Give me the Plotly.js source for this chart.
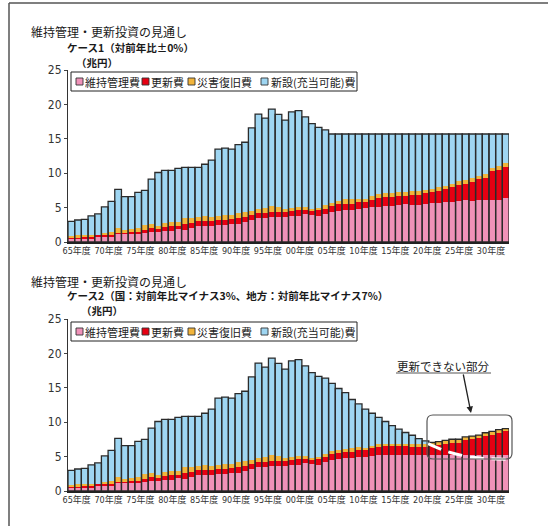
<!DOCTYPE html>
<html><head><meta charset="utf-8">
<script src="https://cdn.plot.ly/plotly-3.0.1.min.js"></script>
<style>html,body{margin:0;padding:0;background:#fff;}#chart{width:548px;height:526px;}</style>
</head><body><div id="chart"></div>
<script>
// ---------- DATA ----------
const years = [1965,1966,1967,1968,1969,1970,1971,1972,1973,1974,1975,1976,1977,1978,1979,1980,1981,1982,1983,1984,1985,1986,1987,1988,1989,1990,1991,1992,1993,1994,1995,1996,1997,1998,1999,2000,2001,2002,2003,2004,2005,2006,2007,2008,2009,2010,2011,2012,2013,2014,2015,2016,2017,2018,2019,2020,2021,2022,2023,2024,2025,2026,2027,2028,2029,2030];
const seriesNames = ['維持管理費','更新費','災害復旧費','新設(充当可能)費'];
const xTickLabels = ['65年度','70年度','75年度','80年度','85年度','90年度','95年度','00年度','05年度','10年度','15年度','20年度','25年度','30年度'];
const yTicks = [0,5,10,15,20,25];

// Case 1
const maint1 = [0.4,0.4,0.5,0.5,0.7,0.8,0.8,1.1,1.1,1.1,1.1,1.25,1.5,1.5,1.65,1.65,1.9,1.8,2.1,2.3,2.35,2.35,2.4,2.5,2.6,2.65,2.95,3.2,3.45,3.45,3.6,3.7,3.7,3.8,3.85,4.0,3.9,3.85,4.1,4.4,4.55,4.65,4.65,4.8,5.0,5.1,5.1,5.25,5.25,5.4,5.5,5.4,5.4,5.5,5.65,5.65,5.8,5.8,6.0,6.05,5.95,6.15,6.15,6.15,6.15,6.45];
const renew1 = [0.2,0.25,0.2,0.2,0.25,0.25,0.25,0.25,0.25,0.3,0.35,0.5,0.6,0.4,0.6,0.7,0.45,0.85,0.65,0.7,0.7,0.7,0.8,0.75,0.8,0.85,0.75,0.75,0.7,0.7,0.75,0.7,0.7,0.7,0.75,0.65,0.6,0.75,0.75,0.8,0.95,0.85,0.85,1.0,0.8,1.0,1.3,1.25,1.25,1.3,1.15,1.4,1.5,1.65,1.6,1.8,1.85,2.2,2.3,2.4,2.8,3.0,3.15,4.1,4.3,4.5];
const disaster1 = [0.3,0.35,0.3,0.35,0.1,0.2,0.4,0.7,0.4,0.45,0.55,0.7,0.55,0.45,0.55,0.6,0.6,0.85,0.8,0.7,0.7,0.6,0.65,0.65,0.55,0.65,0.7,0.6,0.6,0.8,0.85,0.65,0.35,0.5,0.55,0.4,0.3,0.4,0.5,0.4,0.45,0.7,0.7,0.4,0.4,0.6,0.6,0.6,0.6,0.6,0.65,0.65,0.45,0.45,0.4,0.5,0.5,0.5,0.5,0.6,0.55,0.5,0.55,0.45,0.65,0.55];
const newbuild1 = [2.1,2.2,2.3,2.75,3.05,3.85,4.45,5.6,4.85,4.75,5.2,5.05,6.5,7.75,7.6,7.45,7.75,7.35,7.3,7.15,7.55,8.25,9.65,9.75,9.55,10.0,10.1,12.05,13.85,13.05,14.1,13.5,12.95,13.9,13.95,13.15,12.4,11.65,10.95,10.1,9.75,9.5,9.5,9.5,9.5,9.0,8.7,8.6,8.6,8.4,8.4,8.25,8.35,8.1,8.05,7.75,7.55,7.2,6.9,6.65,6.4,6.05,5.85,5.0,4.6,4.2];

// Case 2
const maint2 = [0.4,0.4,0.5,0.5,0.7,0.8,0.8,1.1,1.1,1.1,1.1,1.25,1.5,1.5,1.65,1.65,1.9,1.8,2.1,2.3,2.35,2.35,2.4,2.5,2.6,2.65,2.95,3.2,3.45,3.45,3.6,3.7,3.7,3.8,3.85,4.0,3.9,3.85,4.15,4.45,4.6,4.75,4.8,4.95,5.0,5.1,5.2,5.2,5.2,5.2,5.2,5.2,5.2,5.2,5.2,5.2,5.2,5.2,5.2,5.2,5.2,5.2,5.2,5.2,5.2,5.2];
const renew2 = [0.2,0.25,0.2,0.2,0.25,0.25,0.25,0.25,0.25,0.3,0.35,0.5,0.6,0.4,0.6,0.7,0.45,0.85,0.65,0.7,0.7,0.7,0.8,0.75,0.8,0.85,0.75,0.75,0.7,0.7,0.75,0.7,0.7,0.7,0.75,0.65,0.6,0.75,0.75,0.9,0.95,0.85,0.85,0.95,0.9,1.1,1.25,1.3,1.3,1.3,1.3,1.25,1.25,1.2,1.45,1.55,1.7,1.85,1.85,2.15,2.3,2.45,2.75,3.0,3.25,3.45];
const disaster2 = [0.3,0.35,0.3,0.35,0.1,0.2,0.4,0.7,0.4,0.45,0.55,0.7,0.55,0.45,0.55,0.6,0.6,0.85,0.8,0.7,0.7,0.6,0.65,0.65,0.55,0.65,0.7,0.6,0.6,0.8,0.85,0.65,0.35,0.5,0.55,0.4,0.3,0.4,0.45,0.4,0.45,0.55,0.6,0.45,0.4,0.35,0.35,0.4,0.4,0.4,0.4,0.4,0.45,0.45,0.4,0.42,0.47,0.47,0.47,0.52,0.47,0.46,0.52,0.47,0.48,0.42];
const newbuild2 = [2.1,2.2,2.3,2.75,3.05,3.85,4.45,5.6,4.85,4.75,5.2,5.05,6.5,7.75,7.6,7.45,7.75,7.35,7.3,7.15,7.55,8.25,9.65,9.75,9.55,10.0,10.1,12.05,13.85,13.05,14.1,13.5,12.95,13.9,13.95,13.15,12.4,11.65,11.05,9.9,8.9,8.15,7.05,6.3,5.6,4.75,3.9,3.2,2.6,2.1,1.6,1.25,0.7,0.45,0,0,0,0,0,0,0,0,0,0,0,0];

// Case 2 funding line (white dashed)
const budgetYears = [2018.4,2020.5,2021.7,2025.0,2027.5,2030.2];
const budgetValues = [6.9,6.0,5.6,4.9,4.7,4.6];

// ---------- STYLE / LAYOUT ----------
const W = 548, H = 526;
const PX = x => x / W, PY = y => 1 - y / H;
const colors = ['#f092b8','#e60012','#f2b43a','#9fd6f2'];
const cjk = '"Noto Sans CJK JP", sans-serif';
const narrow = '"Liberation Sans Narrow", "DejaVu Sans Condensed", "Noto Sans CJK JP", sans-serif';

function stackTraces(series, xa, ya) {
  const traces = [];
  let base = years.map(() => 0);
  series.forEach((vals, i) => {
    traces.push({type:'bar', x: years, y: vals, base: base.slice(), xaxis: xa, yaxis: ya,
      marker:{color: colors[i], line:{width:0}}, showlegend:false, hoverinfo:'skip'});
    base = base.map((b, j) => b + vals[j]);
  });
  traces.push({type:'bar', x: years, y: base, base: years.map(() => 0), xaxis: xa, yaxis: ya,
    marker:{color:'rgba(0,0,0,0)', line:{color:'#2b2b2b', width:1.3}}, showlegend:false, hoverinfo:'skip'});
  return traces;
}

const data = [
  ...stackTraces([maint1, renew1, disaster1, newbuild1], 'x', 'y'),
  ...stackTraces([maint2, renew2, disaster2, newbuild2], 'x2', 'y2'),
  {type:'scatter', mode:'lines', x: budgetYears, y: budgetValues, xaxis:'x2', yaxis:'y2',
   line:{color:'#ffffff', width:3, dash:'14px,8px', shape:'spline'}, showlegend:false, hoverinfo:'skip'}
];

// x tick label positions (labels evenly spread, slightly narrower than bars)
const plotL = 68, plotR = 509;
const xMin = 1964.5, xMax = 2030.5;
const tickPos = xTickLabels.map((_, k) => xMin + (76.7 + 31.87 * k - plotL) / (plotR - plotL) * (xMax - xMin));

function xAxis(anchor) {
  return {domain:[PX(plotL), PX(plotR)], range:[xMin, xMax], anchor: anchor,
    tickvals: tickPos, ticktext: xTickLabels, tickangle:0, ticks:'', showgrid:false, zeroline:false,
    showline:true, linecolor:'#222', linewidth:1.5,
    tickfont:{family: narrow, size:9, color:'#333'}, fixedrange:true};
}
function yAxis(anchor, y0, y1) {
  return {domain:[PY(y0), PY(y1)], range:[0,25], anchor: anchor, tickvals: yTicks,
    ticks:'outside', ticklen:3, tickcolor:'#444', showgrid:false, zeroline:false,
    showline:true, linecolor:'#333', linewidth:1,
    tickfont:{family: narrow, size:12, color:'#333'}, fixedrange:true};
}

const annotations = [];
const shapes = [];
function txt(x, y, s, size, bold, extra) {
  annotations.push(Object.assign({xref:'paper', yref:'paper', x: PX(x), y: PY(y), text: bold ? '<b>'+s+'</b>' : s,
    showarrow:false, xanchor:'left', yanchor:'middle', borderpad:0, font:{family: cjk, size: size, color:'#1a1a1a'}}, extra || {}));
}
// titles
txt(30, 32, '維持管理・更新投資の見通し', 12, false);
txt(66, 47.5, 'ケース1（対前年比±0%）', 10.5, true);
txt(75, 62, '（兆円）', 10.5, true);
txt(30, 281, '維持管理・更新投資の見通し', 12, false);
txt(66, 295.5, 'ケース2（国：対前年比マイナス3%、地方：対前年比マイナス7%）', 10.5, true);
txt(80, 310, '（兆円）', 10.5, true);

// legends (drawn manually for compact layout)
function legend(dy) {
  shapes.push({type:'rect', xref:'paper', yref:'paper', x0:PX(71), x1:PX(357), y0:PY(72+dy), y1:PY(91+dy),
    line:{color:'#222', width:1}, fillcolor:'#fff', layer:'above'});
  const sq = [76, 142, 188, 261];
  const tx = [84, 150, 196, 270];
  seriesNames.forEach((n, i) => {
    shapes.push({type:'rect', xref:'paper', yref:'paper', x0:PX(sq[i]), x1:PX(sq[i]+7), y0:PY(78+dy), y1:PY(85+dy),
      line:{color:'#333', width:0.9}, fillcolor: colors[i], layer:'above'});
    txt(tx[i], 82+dy, n, 11, false, {font:{family: cjk, size:11, color:'#222'}});
  });
}
legend(0);
legend(250);

// frame
shapes.push({type:'line', xref:'paper', yref:'paper', x0:PX(9), x1:PX(548), y0:PY(3), y1:PY(3), line:{color:'#555', width:1.5}});
shapes.push({type:'line', xref:'paper', yref:'paper', x0:PX(9), x1:PX(9), y0:PY(3), y1:PY(526), line:{color:'#555', width:1.5}});

// rounded box around unfunded part
(function(){
  const x0=427, x1=512, y0=415, y1=459, r=6;
  const p = (x,y) => PX(x)+','+PY(y);
  const path = 'M'+p(x0+r,y0)+' L'+p(x1-r,y0)+' Q'+p(x1,y0)+' '+p(x1,y0+r)+' L'+p(x1,y1-r)+' Q'+p(x1,y1)+' '+p(x1-r,y1)+
    ' L'+p(x0+r,y1)+' Q'+p(x0,y1)+' '+p(x0,y1-r)+' L'+p(x0,y0+r)+' Q'+p(x0,y0)+' '+p(x0+r,y0)+' Z';
  shapes.push({type:'path', xref:'paper', yref:'paper', path: path, line:{color:'#555', width:1.2}, layer:'above'});
})();
// callout
txt(396, 366, '更新できない部分', 11.5, false, {font:{family: cjk, size:11.5, color:'#222'}});
shapes.push({type:'line', xref:'paper', yref:'paper', x0:PX(396), x1:PX(491), y0:PY(373), y1:PY(373), line:{color:'#555', width:1.2}});
annotations.push({xref:'paper', yref:'paper', x:PX(471), y:PY(413), ax:-8, ay:-40, text:'', showarrow:true,
  arrowhead:2, arrowsize:1, arrowwidth:1.3, arrowcolor:'#222', standoff:0});

const layout = {
  width: W, height: H, margin:{l:0, r:0, t:0, b:0}, paper_bgcolor:'#fff', plot_bgcolor:'rgba(0,0,0,0)',
  barmode:'overlay', bargap:0, showlegend:false,
  xaxis: xAxis('y'), yaxis: yAxis('x', 242, 70),
  xaxis2: xAxis('y2'), yaxis2: yAxis('x2', 491, 319),
  annotations: annotations, shapes: shapes, font:{family: cjk}
};
Plotly.newPlot('chart', data, layout, {displayModeBar:false, staticPlot:true});
</script></body></html>
